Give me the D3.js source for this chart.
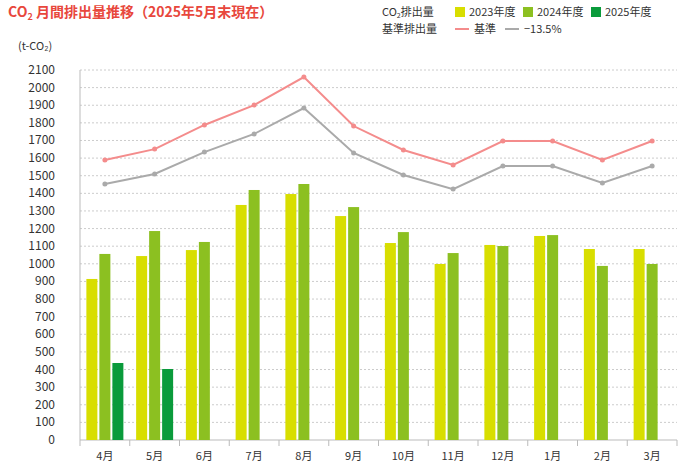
<!DOCTYPE html>
<html><head><meta charset="utf-8">
<script src="https://cdn.jsdelivr.net/npm/d3@7"></script>
<style>body{margin:0;background:#fff;font-family:"Noto Sans CJK JP","Noto Sans",sans-serif}</style>
</head><body><svg id="c" width="681" height="463"></svg>
<script>
const months=["4月","5月","6月","7月","8月","9月","10月","11月","12月","1月","2月","3月"];
const s2023=[914,1044,1078,1334,1396,1271,1118,999,1107,1158,1084,1084];
const s2024=[1056,1186,1124,1419,1453,1322,1180,1061,1101,1163,988,999];
const s2025=[437,403,null,null,null,null,null,null,null,null,null,null];
const base=[1589,1651,1788,1901,2060,1782,1646,1561,1697,1697,1589,1697];
const reduced=[1453,1510,1634,1737,1884,1629,1504,1424,1555,1555,1459,1555];
const yTicks=d3.range(0,2101,100);
const svg=d3.select("#c");
const F='"Noto Sans CJK JP",sans-serif';
const x=d3.scaleBand().domain(months).range([80,677]);
const y=d3.scaleLinear().domain([0,2100]).range([440,70]);
svg.append("g").selectAll("line").data(yTicks.slice(1)).join("line")
 .attr("x1",80).attr("x2",677).attr("y1",d=>y(d)).attr("y2",d=>y(d))
 .attr("stroke","#ccc").attr("stroke-dasharray","2,2");
svg.append("g").selectAll("text").data(yTicks).join("text")
 .attr("x",55).attr("y",d=>y(d)+4).attr("text-anchor","end").attr("font-size",12).attr("fill","#333").attr("font-family",F).text(d=>d);
svg.append("text").attr("x",18).attr("y",50).attr("font-size",11).attr("fill","#333").attr("font-family",F).text("(t-CO₂)");
svg.append("line").attr("x1",80).attr("x2",80).attr("y1",70).attr("y2",440).attr("stroke","#bbb");
svg.append("line").attr("x1",80).attr("x2",677).attr("y1",440).attr("y2",440).attr("stroke","#bbb");
svg.append("g").selectAll("line").data(months.concat([null])).join("line")
 .attr("x1",(d,i)=>80+i*x.bandwidth()).attr("x2",(d,i)=>80+i*x.bandwidth()).attr("y1",440).attr("y2",446).attr("stroke","#bbb");
svg.append("g").selectAll("text").data(months).join("text")
 .attr("x",d=>x(d)+x.bandwidth()/2).attr("y",460).attr("text-anchor","middle").attr("font-size",11).attr("fill","#333").attr("font-family",F).text(d=>d);
const bw=11;
const series=[[s2023,"#d8de00",-13],[s2024,"#8cc021",0],[s2025,"#0a9b3b",13]];
series.forEach(([s,c,off])=>{
 svg.append("g").selectAll("rect").data(months.map((m,i)=>[m,s[i]]).filter(d=>d[1]!=null)).join("rect")
  .attr("x",d=>x(d[0])+x.bandwidth()/2+off-bw/2).attr("width",bw)
  .attr("y",d=>y(d[1])).attr("height",d=>440-y(d[1])).attr("fill",c);
});
[[base,"#f48c8c"],[reduced,"#aaaaaa"]].forEach(([s,c])=>{
 const pts=months.map((m,i)=>[x(m)+x.bandwidth()/2,y(s[i])]);
 svg.append("path").attr("d",d3.line()(pts)).attr("fill","none").attr("stroke",c).attr("stroke-width",2);
 svg.append("g").selectAll("circle").data(pts).join("circle").attr("cx",d=>d[0]).attr("cy",d=>d[1]).attr("r",2.5).attr("fill",c);
});
// title
const t=svg.append("text").attr("x",8).attr("y",17).attr("font-size",14).attr("font-weight","bold").attr("fill","#e8473c").attr("font-family",F);
t.append("tspan").text("CO");
t.append("tspan").attr("font-size",9).attr("dy",3).text("2");
t.append("tspan").attr("dy",-3).text(" 月間排出量推移（2025年5月末現在）");
// legend
const lg=svg.append("g").attr("font-size",11).attr("fill","#333").attr("font-family",F);
const l1=lg.append("text").attr("x",382).attr("y",16);
l1.append("tspan").text("CO");l1.append("tspan").attr("font-size",7).attr("dy",2).text("2");l1.append("tspan").attr("dy",-2).text("排出量");
[["2023年度","#d8de00",455],["2024年度","#8cc021",523],["2025年度","#0a9b3b",591]].forEach(([t,c,xx])=>{
 lg.append("rect").attr("x",xx).attr("y",7).attr("width",10).attr("height",10).attr("fill",c);
 lg.append("text").attr("x",xx+14).attr("y",16).text(t);
});
lg.append("text").attr("x",382).attr("y",33).text("基準排出量");
[["基準","#f48c8c",455],["−13.5%","#aaaaaa",505]].forEach(([t,c,xx])=>{
 lg.append("line").attr("x1",xx).attr("x2",xx+14).attr("y1",29).attr("y2",29).attr("stroke",c).attr("stroke-width",2);
 lg.append("text").attr("x",xx+19).attr("y",33).text(t);
});
</script></body></html>
